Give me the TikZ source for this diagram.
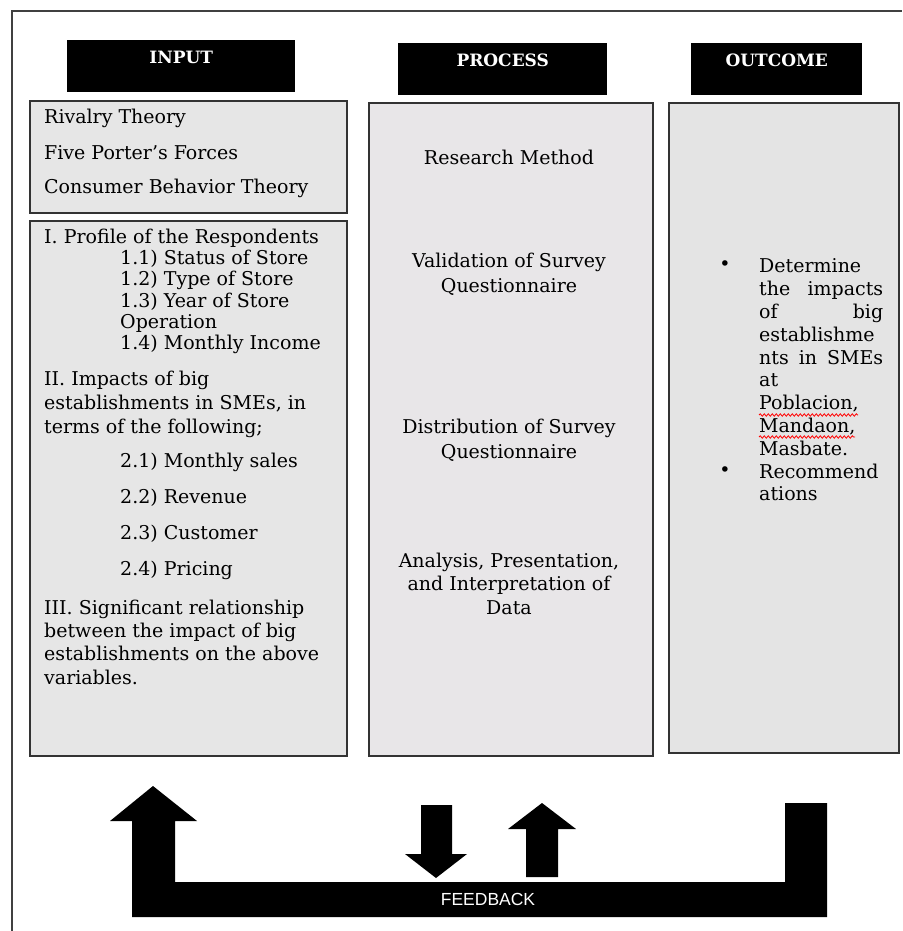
\documentclass[tikz,border=0pt]{standalone}
\usepackage{fontspec}
\setmainfont{DejaVu Serif}
\newfontfamily\fbfont{Liberation Sans}
\usepackage{tikz}
\usetikzlibrary{positioning,decorations.pathmorphing}
\definecolor{inbox}{HTML}{E6E6E6}
\definecolor{procbox}{HTML}{E8E6E8}
\definecolor{outbox}{HTML}{E4E4E4}

\begin{document}
\begin{tikzpicture}[x=1pt, y=-1pt, font=\fontsize{19}{22}\selectfont,
		head/.style={fill=black, text=white, font=\fontsize{17}{20}\selectfont\bfseries, minimum height=52pt, text height=12.5pt, text depth=17.5pt, inner sep=0pt, anchor=north west},
		col/.style={draw=black!80, line width=2pt, inner sep=0pt, anchor=north west},
		txt/.style={inner sep=0pt, anchor=west},
		ctr/.style={inner sep=0pt, align=center},
		spell/.style={red, line width=0.8pt, decorate, decoration={snake, amplitude=1.2pt, segment length=4pt}}]
		\useasboundingbox (0,0) rectangle (902,931);
		\draw[line width=2pt, black!75] (12,931) -- (12,11) -- (902,11);

		\node[head, minimum width=228pt] (inhead) at (67,40) {INPUT};
		\node[head, minimum width=209pt] (prochead) at (398,43) {PROCESS};
		\node[head, minimum width=171pt] (outhead) at (691,43) {OUTCOME};

		\node[col, fill=inbox, minimum width=317pt, minimum height=112pt] (theory) at (29,100) {};
		\node[col, fill=inbox, minimum width=317pt, minimum height=535pt] (vars) at (29,220) {};
		\node[col, fill=procbox, minimum width=284pt, minimum height=653pt] (proc) at (368,102) {};
		\node[col, fill=outbox, minimum width=230pt, minimum height=650pt] (out) at (668,102) {};

		\foreach \t [count=\i] in {Rivalry Theory, Five Porter’s Forces, Consumer Behavior Theory}
			\node[txt] (th\i) at (44,118+35*\i-35) {\t};

		\node[txt] (prof) at (44,238) {I. Profile of the Respondents};
		\node[txt, align=left, font=\fontsize{19}{21.3}\selectfont] (profitems) at (120,302) {1.1) Status of Store\\1.2) Type of Store\\1.3) Year of Store\\Operation\\1.4) Monthly Income};
		\node[txt, align=left, font=\fontsize{19}{24}\selectfont] (impact) at (44,404) {II. Impacts of big\\establishments in SMEs, in\\terms of the following;};
		\foreach \t [count=\i] in {Monthly sales, Revenue, Customer, Pricing}
			\node[txt] (imp\i) at (120,462+36*\i-36) {2.\i) \t};
		\node[txt, align=left, font=\fontsize{19}{23.3}\selectfont] (signif) at (44,642) {III. Significant relationship\\between the impact of big\\establishments on the above\\variables.};

		\node[ctr] (method) at (509,157) {Research Method};
		\node[ctr, font=\fontsize{19}{25}\selectfont] (valid) at (509,274.5) {Validation of Survey\\Questionnaire};
		\node[ctr, font=\fontsize{19}{25}\selectfont] (distr) at (509,440.5) {Distribution of Survey\\Questionnaire};
		\node[ctr, font=\fontsize{19}{23.5}\selectfont] (anal) at (509,583.5) {Analysis, Presentation,\\and Interpretation of\\Data};

		\node[inner sep=0pt] (bul1) at (725,266) {\textbullet};
		\node[inner sep=0pt] (bul2) at (725,472) {\textbullet};
		\node[txt, text width=124pt, align=left, font=\fontsize{19}{22.8}\selectfont] (goal) at (759,380) {Determine\\the\hfill impacts\\of\hfill big\\establishme\\nts\hfill in\hfill SMEs\\at\\Poblacion,\\Mandaon,\\Masbate.\\Recommend\\ations};
		\draw[spell] (759,415) -- ++(99,0);
		\draw[spell] (759,437) -- ++(96,0);

		\fill (132,917) -- (132,821) -- (110,821) -- (153,786) -- (197,821) -- (175,821) -- (175,882) -- (785,882) -- (785,803) -- (827,803) -- (827,917) -- cycle;
		\fill (421,805) -- (452,805) -- (452,854) -- (467,854) -- (436,878) -- (405,854) -- (421,854) -- cycle;
		\fill (526,877) -- (526,829) -- (508,829) -- (542,803) -- (576,829) -- (558,829) -- (558,877) -- cycle;
		\node[text=white, font=\fontsize{17.5}{19}\fbfont] (fb) at (488,899) {FEEDBACK};
	\end{tikzpicture}
\end{document}
